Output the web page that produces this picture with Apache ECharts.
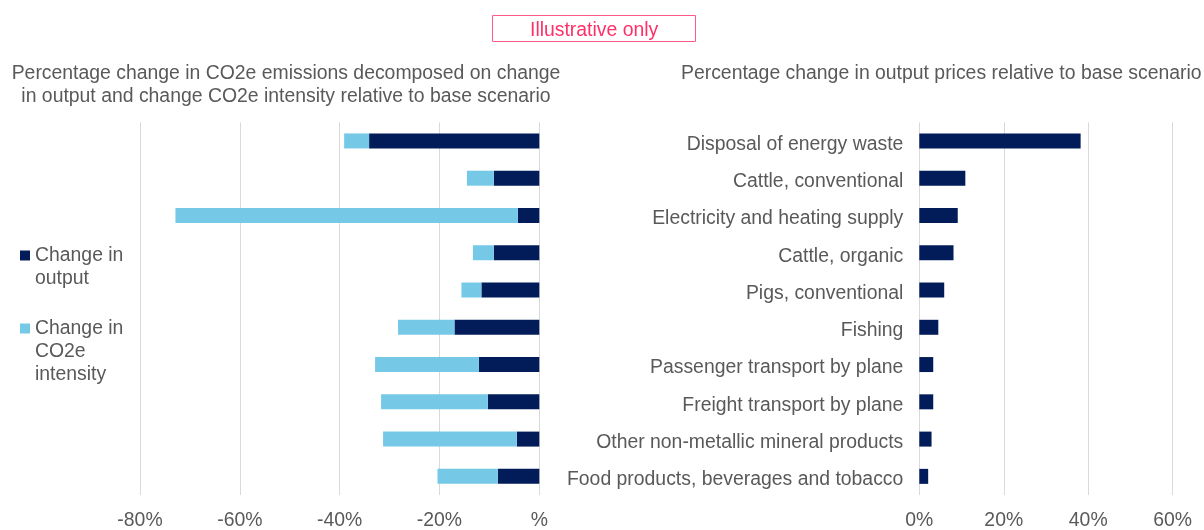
<!DOCTYPE html>
<html>
<head>
<meta charset="utf-8">
<script src="https://cdn.jsdelivr.net/npm/echarts@6/dist/echarts.min.js"></script>
<style>
  html, body { margin: 0; padding: 0; background: #fff; }
  #chart { width: 1204px; height: 530px; }
</style>
</head>
<body>
<div id="chart"></div>
<script>
// sectors, top to bottom
const categories = [
  'Disposal of energy waste',
  'Cattle, conventional',
  'Electricity and heating supply',
  'Cattle, organic',
  'Pigs, conventional',
  'Fishing',
  'Passenger transport by plane',
  'Freight transport by plane',
  'Other non-metallic mineral products',
  'Food products, beverages and tobacco'
];

// left chart: % change in CO2e emissions, split in two parts
const outputChange = [-34.1, -9.1, -4.3, -9.1, -11.6, -17.0, -12.1, -10.3, -4.5, -8.3];
const intensityChange = [-5.0, -5.4, -68.6, -4.2, -4.0, -11.3, -20.8, -21.4, -26.8, -12.1];

// right chart: % change in output prices
const priceChange = [38.2, 10.9, 9.1, 8.1, 5.9, 4.5, 3.3, 3.3, 2.9, 2.1];

const FONT = "'Liberation Sans', Arial, sans-serif";
const GREY = '#595959';
const DARK = '#021c5a';
const LIGHT = '#75c9e6';
const FS = 19.4;

var chart = echarts.init(document.getElementById('chart'));

var option = {
  animation: false,
  textStyle: { fontFamily: FONT },
  title: [
    {
      text: 'Illustrative only',
      left: 492,
      top: 15,
      padding: [6, 38, 2, 38],
      borderColor: '#ff5a85',
      borderWidth: 1,
      textStyle: { color: '#ff2f68', fontSize: FS, fontWeight: 'normal', fontFamily: FONT }
    },
    {
      text: 'Percentage change in CO2e emissions decomposed on change\nin output and change CO2e intensity relative to base scenario',
      left: 286,
      top: 62,
      padding: 0,
      textAlign: 'center',
      textStyle: { color: GREY, fontSize: FS, fontWeight: 'normal', lineHeight: 23, fontFamily: FONT }
    },
    {
      text: 'Percentage change in output prices relative to base scenario',
      left: 681,
      top: 62,
      padding: 0,
      textStyle: { color: GREY, fontSize: FS, fontWeight: 'normal', lineHeight: 23, fontFamily: FONT }
    }
  ],
  // blank lines above the text keep the square beside the first line
  legend: [
    {
      data: ['Change in output'],
      orient: 'vertical',
      left: 15,
      top: 216,
      itemWidth: 10,
      itemHeight: 10,
      icon: 'rect',
      formatter: function () { return ' \nChange in\noutput'; },
      textStyle: { color: GREY, fontSize: FS, lineHeight: 23, fontFamily: FONT }
    },
    {
      data: ['Change in CO2e intensity'],
      orient: 'vertical',
      left: 15,
      top: 266,
      itemWidth: 10,
      itemHeight: 10,
      icon: 'rect',
      formatter: function () { return ' \n \nChange in\nCO2e\nintensity'; },
      textStyle: { color: GREY, fontSize: FS, lineHeight: 23, fontFamily: FONT }
    }
  ],
  grid: [
    { left: 140, width: 399.3, top: 122.3, height: 374.4 },
    { left: 919.3, right: 31.3, top: 122.3, height: 374.4 }
  ],
  xAxis: [
    {
      gridIndex: 0,
      type: 'value',
      min: -80,
      max: 0,
      interval: 20,
      axisLine: { show: false },
      axisTick: { show: false },
      splitLine: { lineStyle: { color: '#d9d9d9', width: 1 } },
      axisLabel: {
        color: GREY, fontSize: FS, margin: 16, fontFamily: FONT,
        formatter: function (v) { return v === 0 ? '%' : v + '%'; }
      }
    },
    {
      gridIndex: 1,
      type: 'value',
      min: 0,
      max: 60,
      interval: 20,
      axisLine: { show: false },
      axisTick: { show: false },
      splitLine: { lineStyle: { color: '#d9d9d9', width: 1 } },
      axisLabel: { color: GREY, fontSize: FS, margin: 16, fontFamily: FONT, formatter: '{value}%' }
    }
  ],
  yAxis: [
    {
      gridIndex: 0,
      type: 'category',
      data: categories,
      inverse: true,
      axisLine: { show: false },
      axisTick: { show: false },
      axisLabel: { show: false }
    },
    {
      gridIndex: 1,
      type: 'category',
      data: categories,
      inverse: true,
      axisLine: { show: false },
      axisTick: { show: false },
      axisLabel: {
        margin: 16,
        formatter: function (v) { return '{c|' + v + '}'; },
        rich: {
          c: { color: GREY, fontSize: FS, fontFamily: FONT, padding: [7, 0, 0, 0] }
        }
      }
    }
  ],
  series: [
    {
      name: 'Change in output',
      type: 'bar',
      stack: 'co2',
      xAxisIndex: 0,
      yAxisIndex: 0,
      barWidth: 15,
      itemStyle: { color: DARK },
      data: outputChange
    },
    {
      name: 'Change in CO2e intensity',
      type: 'bar',
      stack: 'co2',
      xAxisIndex: 0,
      yAxisIndex: 0,
      barWidth: 15,
      itemStyle: { color: LIGHT },
      data: intensityChange
    },
    {
      name: 'Output prices',
      type: 'bar',
      xAxisIndex: 1,
      yAxisIndex: 1,
      barWidth: 15,
      itemStyle: { color: DARK },
      data: priceChange
    }
  ]
};

chart.setOption(option);
</script>
</body>
</html>
